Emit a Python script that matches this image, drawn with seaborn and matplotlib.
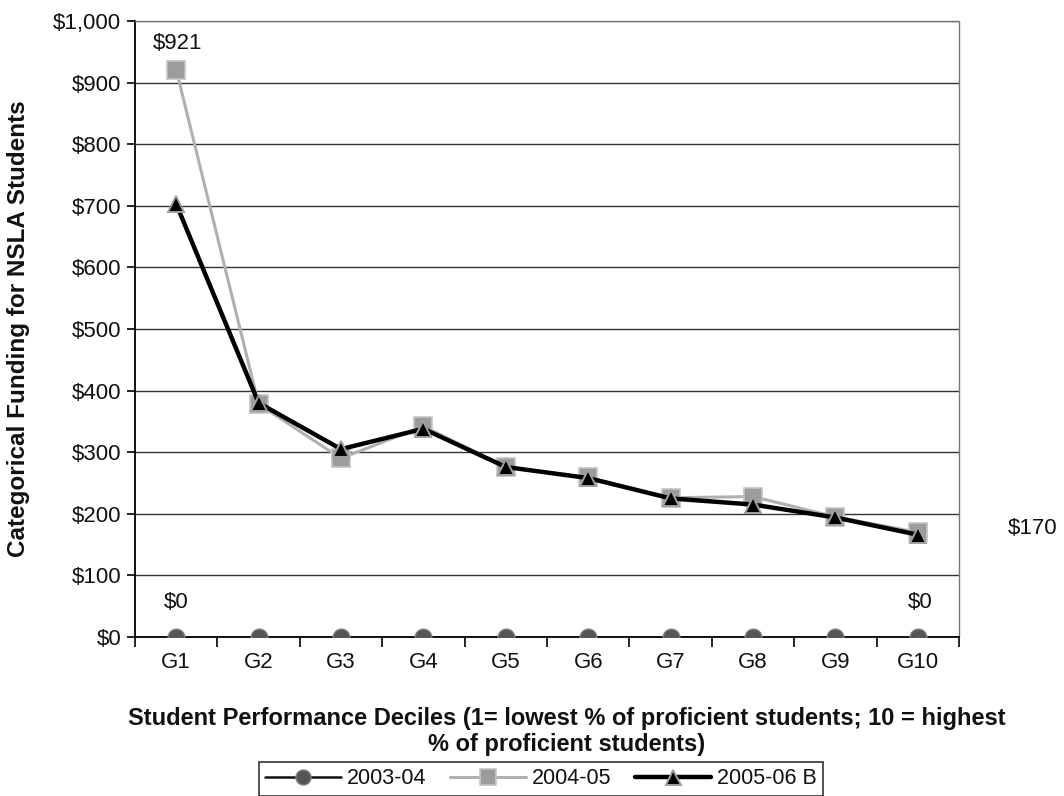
import matplotlib
matplotlib.use("Agg")
import matplotlib.pyplot as plt
import seaborn as sns
import pandas as pd
import numpy as np
from matplotlib.ticker import FixedLocator, FuncFormatter

categories = ["G1", "G2", "G3", "G4", "G5", "G6", "G7", "G8", "G9", "G10"]
series_names = ["2003-04", "2004-05", "2005-06 B"]
vals_2003_04 = [0, 0, 0, 0, 0, 0, 0, 0, 0, 0]
vals_2004_05 = [921, 378, 290, 342, 276, 259, 226, 228, 195, 170]
vals_2005_06 = [703, 380, 305, 338, 276, 258, 225, 215, 194, 166]
yticks = [0, 100, 200, 300, 400, 500, 600, 700, 800, 900, 1000]

df = pd.DataFrame({
    "Decile": categories * 3,
    "Funding": vals_2003_04 + vals_2004_05 + vals_2005_06,
    "Year": [series_names[0]] * 10 + [series_names[1]] * 10 + [series_names[2]] * 10,
})

sns.set_theme(style="white")
plt.rcParams["font.family"] = ["Liberation Sans", "DejaVu Sans"]

W, H = 1064, 796
fig = plt.figure(figsize=(W / 100, H / 100), dpi=100)
ax = fig.add_axes([135 / W, 1 - 637 / H, (959 - 135) / W, (637 - 21) / H])

styles = {
    "2003-04": dict(color="#111111", lw=1.8, marker="o", ms=12, mfc="#555555", mec="#808080", mew=1.0, zorder=4),
    "2004-05": dict(color="#b0b0b0", lw=2.2, marker="s", ms=13, mfc="#9c9c9c", mec="#c4c4c4", mew=1.2, zorder=3),
    "2005-06 B": dict(color="black", lw=3.2, marker="^", ms=12, mfc="black", mec="#a0a0a0", mew=1.4, zorder=5),
}
for name in series_names:
    sub = df[df["Year"] == name]
    st = styles[name]
    sns.lineplot(data=sub, x="Decile", y="Funding", ax=ax, color=st["color"], lw=st["lw"],
                 marker=st["marker"], markersize=st["ms"], markerfacecolor=st["mfc"],
                 markeredgecolor=st["mec"], markeredgewidth=st["mew"], label=name,
                 zorder=st["zorder"], sort=False)

ax.set_xlim(-0.5, 9.5)
ax.set_ylim(0, 1000)
ax.yaxis.set_major_locator(FixedLocator(yticks))
ax.yaxis.set_major_formatter(FuncFormatter(lambda v, p: "${:,.0f}".format(v)))
ax.set_xticks(range(10))
ax.set_xticklabels(categories)
ax.set_xticks(np.arange(-0.5, 10, 1), minor=True)
ax.tick_params(axis="x", which="major", length=0, pad=11, labelsize=16)
ax.tick_params(axis="x", which="minor", length=7, width=1.2, color="black", direction="out", bottom=True)
ax.tick_params(axis="y", which="major", length=6, width=1.2, color="black", direction="out", left=True,
               labelsize=16, pad=4)
for lbl in ax.get_xticklabels() + ax.get_yticklabels():
    lbl.set_color("#111111")

ax.grid(axis="y", color="#333333", lw=1.0)
ax.set_axisbelow(True)
for s in ["left", "bottom"]:
    ax.spines[s].set_color("black")
    ax.spines[s].set_linewidth(1.3)
for s in ["top", "right"]:
    ax.spines[s].set_color("#777777")
    ax.spines[s].set_linewidth(1.0)
    ax.spines[s].set_linestyle((0, (1, 1)))

ax.set_ylabel("")
ax.set_xlabel("")
fig.text(19 / W, 1 - 329 / H, "Categorical Funding for NSLA Students", rotation=90,
         ha="center", va="center", fontsize=17.5, fontweight="bold", color="#111111")
fig.text(567 / W, 1 - 718 / H, "Student Performance Deciles (1= lowest % of proficient students; 10 = highest",
         ha="center", va="center", fontsize=17, fontweight="bold", color="#111111")
fig.text(567 / W, 1 - 745 / H, "% of proficient students)",
         ha="center", va="center", fontsize=17, fontweight="bold", color="#111111")

# data labels
lab = dict(ha="center", va="center", fontsize=16, color="#111111")
ax.annotate("${:,.0f}".format(vals_2004_05[0]), (0, vals_2004_05[0]), xytext=(1, 19),
            textcoords="offset points", **lab)
ax.annotate("${:,.0f}".format(vals_2003_04[0]), (0, vals_2003_04[0]), xytext=(0, 25),
            textcoords="offset points", **lab)
ax.annotate("${:,.0f}".format(vals_2003_04[9]), (9, vals_2003_04[9]), xytext=(2, 25),
            textcoords="offset points", **lab)
ax.annotate("${:,.0f}".format(vals_2004_05[9]), (9, vals_2004_05[9]), xytext=(65, 3),
            textcoords="offset points", ha="left", va="center", fontsize=16, color="#111111",
            annotation_clip=False)

leg = ax.legend(loc="upper center", bbox_to_anchor=(541 / W, 1 - 762 / H), bbox_transform=fig.transFigure,
                ncol=3, frameon=True, fancybox=False, fontsize=15.5, handlelength=3.5, handletextpad=0.3,
                columnspacing=1.1, borderpad=0.3, borderaxespad=0, markerscale=0.9)
leg.get_frame().set_edgecolor("black")
leg.get_frame().set_linewidth(1.2)
for t in leg.get_texts():
    t.set_color("#111111")

fig.savefig("out.png", dpi=100)
